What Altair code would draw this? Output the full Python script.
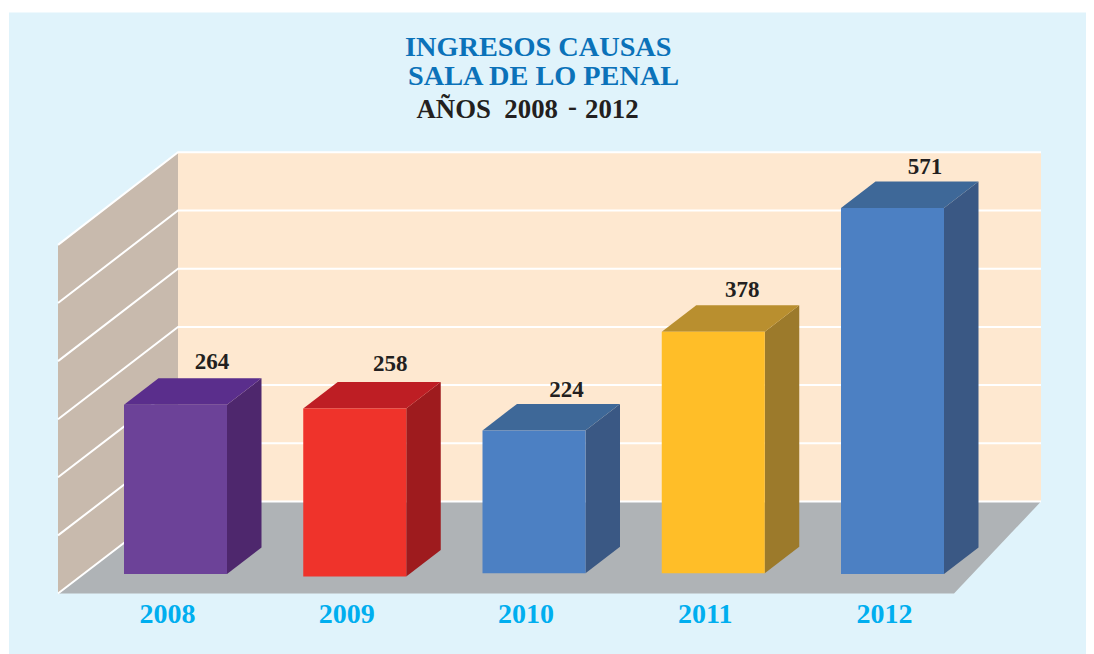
import altair as alt
import pandas as pd

years = ["2008", "2009", "2010", "2011", "2012"]
values = [264, 258, 224, 378, 571]
bar_base = [0, -4, 1, 1, 0]
front_colors = ["#6C4298", "#EF332B", "#4C80C3", "#FFBE28", "#4C80C3"]
top_colors = ["#5A2E8C", "#BE1E24", "#3E6898", "#B98F2F", "#3E6898"]
side_colors = ["#4E276D", "#9E1B1E", "#3A5884", "#9C7A2B", "#3A5884"]
grid_levels = [0, 1, 2, 3, 4, 5, 6]
title_lines = ["INGRESOS CAUSAS", "SALA DE LO PENAL", "AÑOS\u00a0\u00a02008", "-", "2012"]

# Frame of the drawing: one x unit is one bar slot, y is in cases.
W, H = 1078, 646
SLOT, PX = 179.25, 0.641
X0, Y0 = 124.0, 574.0
LABEL_NUDGE = [(4, 2), (3, 4), (0, -1), (-3.5, 1), (0, 0)]


def ux(px):
    return (px - X0) / SLOT


def uy(py):
    return (Y0 - py) / PX


x_scale = alt.Scale(domain=[ux(8), ux(8 + W)], range=[0, W], nice=False, zero=False)
y_scale = alt.Scale(domain=[uy(8 + H), uy(8)], range=[H, 0], nice=False, zero=False)
X = lambda f="x": alt.X(f"{f}:Q", scale=x_scale, axis=None)
Y = lambda f="y": alt.Y(f"{f}:Q", scale=y_scale, axis=None)
X2 = lambda f="x2": alt.X2(f"{f}:Q")
Y2 = lambda f="y2": alt.Y2(f"{f}:Q")

BAR_W = 103 / SLOT
DX = 34.5 / SLOT
DY = 26.5 / PX


def one(row):
    return pd.DataFrame([row])


panel = alt.Chart(one(dict(x=ux(9), x2=ux(8 + W), y=uy(12.5), y2=uy(654)))).mark_rect(
    color="#E0F3FB"
).encode(x=X(), x2=X2(), y=Y(), y2=Y2())

back = alt.Chart(one(dict(x=ux(178), x2=ux(1041), y=uy(152), y2=uy(501.5)))).mark_rect(
    color="#FEE8D0"
).encode(x=X(), x2=X2(), y=Y(), y2=Y2())

wall = alt.Chart(pd.DataFrame({
    "x": [ux(58), ux(178)], "y": [uy(245), uy(152)], "y2": [uy(593.5), uy(501.5)],
})).mark_area(color="#C8BAAD").encode(x=X(), y=Y(), y2=Y2())

floor = alt.Chart(pd.DataFrame({
    "y": [uy(501.5), uy(593.5)], "x": [ux(178), ux(58)], "x2": [ux(1041), ux(954)],
})).mark_area(color="#AFB3B6", orient="horizontal").encode(y=Y(), x=X(), x2=X2())

grid_rows = []
for g in grid_levels:
    for px, py in [(58, 593.5 - g * 58.1), (178, 501.5 - g * 58.2), (1041, 501.5 - g * 58.2)]:
        grid_rows.append(dict(level=g, x=ux(px), y=uy(py), o=px))
grid = alt.Chart(pd.DataFrame(grid_rows)).mark_line(color="#FFFFFF", strokeWidth=2).encode(
    x=X(), y=Y(), detail="level:N", order="o:Q"
)

front_rows, side_rows, top_rows, label_rows = [], [], [], []
for i, (yr, v, b) in enumerate(zip(years, values, bar_base)):
    r = i + BAR_W
    nx, ny = LABEL_NUDGE[i]
    front_rows.append(dict(year=yr, x=i, x2=r, y=v, y2=b))
    side_rows += [dict(year=yr, x=r, y=v, y2=b), dict(year=yr, x=r + DX, y=v + DY, y2=b + DY)]
    top_rows += [dict(year=yr, y=v, x=i, x2=r), dict(year=yr, y=v + DY, x=i + DX, x2=r + DX)]
    label_rows.append(dict(year=yr, value=v, x=i + (84 + nx) / SLOT, y=v + (34 + ny) / PX,
                           xc=i + 43.5 / SLOT, yc=uy(623)))
df_labels = pd.DataFrame(label_rows)


def col(palette):
    return alt.Color("year:N", scale=alt.Scale(domain=years, range=palette), legend=None)


side = alt.Chart(pd.DataFrame(side_rows)).mark_area().encode(
    x=X(), y=Y(), y2=Y2(), color=col(side_colors))
top = alt.Chart(pd.DataFrame(top_rows)).mark_area(orient="horizontal").encode(
    y=Y(), x=X(), x2=X2(), color=col(top_colors))
front = alt.Chart(pd.DataFrame(front_rows)).mark_rect().encode(
    x=X(), x2=X2(), y=Y(), y2=Y2(), color=col(front_colors))

FONT = "Liberation Serif"
value_text = alt.Chart(df_labels).mark_text(
    font=FONT, fontWeight="bold", fontSize=23, color="#231F20", baseline="alphabetic"
).encode(x=X(), y=Y(), text="value:Q")
year_text = alt.Chart(df_labels).mark_text(
    font=FONT, fontWeight="bold", fontSize=28, color="#00AEEF", baseline="alphabetic"
).encode(x=X("xc"), y=Y("yc"), text="year:N")

df_title = pd.DataFrame({
    "t": title_lines,
    "x": [ux(405), ux(408), ux(416.5), ux(568), ux(585)],
    "y": [uy(56), uy(85), uy(117.5), uy(115), uy(117.5)],
    "c": ["#0B72B9", "#0B72B9", "#231F20", "#231F20", "#231F20"],
    "s": [28.3, 28.3, 26.8, 26.8, 26.8],
})
title_text = alt.Chart(df_title).mark_text(
    font=FONT, fontWeight="bold", baseline="alphabetic", align="left"
).encode(
    x=X(), y=Y(), text="t:N",
    color=alt.Color("c:N", scale=None),
    size=alt.Size("s:Q", scale=None),
)

chart = alt.layer(
    panel, back, wall, floor, grid, side, top, front, value_text, year_text, title_text
).resolve_scale(color="independent").properties(
    width=W, height=H, padding=0, autosize=alt.AutoSizeParams(type="none"),
    background="#FFFFFF",
).configure_view(stroke=None)

chart.save("out.html", embed_options={"renderer": "svg", "actions": False})
